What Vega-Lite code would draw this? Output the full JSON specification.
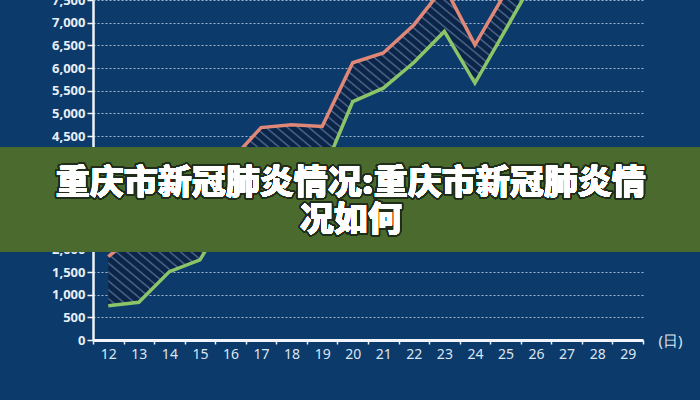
{
  "$schema": "https://vega.github.io/schema/vega-lite/v6.json",
  "width": 550,
  "height": 340,
  "autosize": {"type": "none"},
  "padding": {"left": 93, "top": 0, "right": 57, "bottom": 60},
  "background": "#0b3a6b",
  "config": {
    "view": {"stroke": null},
    "font": "Noto Sans",
    "axisY": {
      "labelFontSize": 13,
      "labelFontWeight": "bold",
      "labelColor": "#e8eef5",
      "labelPadding": 2,
      "tickSize": 6,
      "tickWidth": 1.5,
      "tickColor": "#f0f4f8",
      "domainColor": "#f0f4f8",
      "domainWidth": 2.5,
      "grid": true,
      "gridColor": "#c3d0e2",
      "gridDash": [2, 2],
      "gridWidth": 1,
      "gridOpacity": 0.85
    }
  },
  "data": {
    "values": [
      {"day": 12, "red": 1840, "green": 757},
      {"day": 13, "red": 2380, "green": 832},
      {"day": 14, "red": 2978, "green": 1508},
      {"day": 15, "red": 2846, "green": 1766},
      {"day": 16, "red": 3950, "green": 2905},
      {"day": 17, "red": 4686, "green": 3230},
      {"day": 18, "red": 4746, "green": 3450},
      {"day": 19, "red": 4709, "green": 3650},
      {"day": 20, "red": 6115, "green": 5260},
      {"day": 21, "red": 6330, "green": 5555},
      {"day": 22, "red": 6950, "green": 6120},
      {"day": 23, "red": 7800, "green": 6806},
      {"day": 24, "red": 6512, "green": 5666},
      {"day": 25, "red": 7665, "green": 6843},
      {"day": 26, "red": 8600, "green": 8030}
    ]
  },
  "encoding": {
    "x": {
      "field": "day",
      "type": "ordinal",
      "bandPosition": 0.5,
      "scale": {"type": "band", "domain": [12,13,14,15,16,17,18,19,20,21,22,23,24,25,26,27,28,29], "paddingInner": 0, "paddingOuter": 0},
      "axis": {
        "title": "(日)",
        "titleX": 577,
        "titleY": 0,
        "titleAlign": "center",
        "titleBaseline": "middle",
        "titleFontSize": 15,
        "titleFontWeight": "normal",
        "titleColor": "#dce6f0",
        "labelAngle": 0,
        "labelFontSize": 14,
        "labelColor": "#dce6f0",
        "labelPadding": 3,
        "tickBand": "extent",
        "tickSize": 4,
        "tickWidth": 1.5,
        "tickColor": "#f0f4f8",
        "domainColor": "#f0f4f8",
        "domainWidth": 3,
        "grid": false
      }
    }
  },
  "layer": [
    {
      "mark": {
        "type": "area",
        "clip": true,
        "fill": {
          "gradient": "linear", "x1": 0, "y1": 1, "x2": 1, "y2": 0,
          "stops": [
            {"offset": 0, "color": "#0a2548"}, {"offset": 0.0075, "color": "#0a2548"}, {"offset": 0.01, "color": "#52698f"},
            {"offset": 0.0125, "color": "#0a2548"}, {"offset": 0.02, "color": "#0a2548"}, {"offset": 0.0225, "color": "#52698f"},
            {"offset": 0.025, "color": "#0a2548"}, {"offset": 0.0325, "color": "#0a2548"}, {"offset": 0.035, "color": "#52698f"},
            {"offset": 0.0375, "color": "#0a2548"}, {"offset": 0.045, "color": "#0a2548"}, {"offset": 0.0475, "color": "#52698f"},
            {"offset": 0.05, "color": "#0a2548"}, {"offset": 0.0575, "color": "#0a2548"}, {"offset": 0.06, "color": "#52698f"},
            {"offset": 0.0625, "color": "#0a2548"}, {"offset": 0.07, "color": "#0a2548"}, {"offset": 0.0725, "color": "#52698f"},
            {"offset": 0.075, "color": "#0a2548"}, {"offset": 0.0825, "color": "#0a2548"}, {"offset": 0.085, "color": "#52698f"},
            {"offset": 0.0875, "color": "#0a2548"}, {"offset": 0.095, "color": "#0a2548"}, {"offset": 0.0975, "color": "#52698f"},
            {"offset": 0.1, "color": "#0a2548"}, {"offset": 0.1075, "color": "#0a2548"}, {"offset": 0.11, "color": "#52698f"},
            {"offset": 0.1125, "color": "#0a2548"}, {"offset": 0.12, "color": "#0a2548"}, {"offset": 0.1225, "color": "#52698f"},
            {"offset": 0.125, "color": "#0a2548"}, {"offset": 0.1325, "color": "#0a2548"}, {"offset": 0.135, "color": "#52698f"},
            {"offset": 0.1375, "color": "#0a2548"}, {"offset": 0.145, "color": "#0a2548"}, {"offset": 0.1475, "color": "#52698f"},
            {"offset": 0.15, "color": "#0a2548"}, {"offset": 0.1575, "color": "#0a2548"}, {"offset": 0.16, "color": "#52698f"},
            {"offset": 0.1625, "color": "#0a2548"}, {"offset": 0.17, "color": "#0a2548"}, {"offset": 0.1725, "color": "#52698f"},
            {"offset": 0.175, "color": "#0a2548"}, {"offset": 0.1825, "color": "#0a2548"}, {"offset": 0.185, "color": "#52698f"},
            {"offset": 0.1875, "color": "#0a2548"}, {"offset": 0.195, "color": "#0a2548"}, {"offset": 0.1975, "color": "#52698f"},
            {"offset": 0.2, "color": "#0a2548"}, {"offset": 0.2075, "color": "#0a2548"}, {"offset": 0.21, "color": "#52698f"},
            {"offset": 0.2125, "color": "#0a2548"}, {"offset": 0.22, "color": "#0a2548"}, {"offset": 0.2225, "color": "#52698f"},
            {"offset": 0.225, "color": "#0a2548"}, {"offset": 0.2325, "color": "#0a2548"}, {"offset": 0.235, "color": "#52698f"},
            {"offset": 0.2375, "color": "#0a2548"}, {"offset": 0.245, "color": "#0a2548"}, {"offset": 0.2475, "color": "#52698f"},
            {"offset": 0.25, "color": "#0a2548"}, {"offset": 0.2575, "color": "#0a2548"}, {"offset": 0.26, "color": "#52698f"},
            {"offset": 0.2625, "color": "#0a2548"}, {"offset": 0.27, "color": "#0a2548"}, {"offset": 0.2725, "color": "#52698f"},
            {"offset": 0.275, "color": "#0a2548"}, {"offset": 0.2825, "color": "#0a2548"}, {"offset": 0.285, "color": "#52698f"},
            {"offset": 0.2875, "color": "#0a2548"}, {"offset": 0.295, "color": "#0a2548"}, {"offset": 0.2975, "color": "#52698f"},
            {"offset": 0.3, "color": "#0a2548"}, {"offset": 0.3075, "color": "#0a2548"}, {"offset": 0.31, "color": "#52698f"},
            {"offset": 0.3125, "color": "#0a2548"}, {"offset": 0.32, "color": "#0a2548"}, {"offset": 0.3225, "color": "#52698f"},
            {"offset": 0.325, "color": "#0a2548"}, {"offset": 0.3325, "color": "#0a2548"}, {"offset": 0.335, "color": "#52698f"},
            {"offset": 0.3375, "color": "#0a2548"}, {"offset": 0.345, "color": "#0a2548"}, {"offset": 0.3475, "color": "#52698f"},
            {"offset": 0.35, "color": "#0a2548"}, {"offset": 0.3575, "color": "#0a2548"}, {"offset": 0.36, "color": "#52698f"},
            {"offset": 0.3625, "color": "#0a2548"}, {"offset": 0.37, "color": "#0a2548"}, {"offset": 0.3725, "color": "#52698f"},
            {"offset": 0.375, "color": "#0a2548"}, {"offset": 0.3825, "color": "#0a2548"}, {"offset": 0.385, "color": "#52698f"},
            {"offset": 0.3875, "color": "#0a2548"}, {"offset": 0.395, "color": "#0a2548"}, {"offset": 0.3975, "color": "#52698f"},
            {"offset": 0.4, "color": "#0a2548"}, {"offset": 0.4075, "color": "#0a2548"}, {"offset": 0.41, "color": "#52698f"},
            {"offset": 0.4125, "color": "#0a2548"}, {"offset": 0.42, "color": "#0a2548"}, {"offset": 0.4225, "color": "#52698f"},
            {"offset": 0.425, "color": "#0a2548"}, {"offset": 0.4325, "color": "#0a2548"}, {"offset": 0.435, "color": "#52698f"},
            {"offset": 0.4375, "color": "#0a2548"}, {"offset": 0.445, "color": "#0a2548"}, {"offset": 0.4475, "color": "#52698f"},
            {"offset": 0.45, "color": "#0a2548"}, {"offset": 0.4575, "color": "#0a2548"}, {"offset": 0.46, "color": "#52698f"},
            {"offset": 0.4625, "color": "#0a2548"}, {"offset": 0.47, "color": "#0a2548"}, {"offset": 0.4725, "color": "#52698f"},
            {"offset": 0.475, "color": "#0a2548"}, {"offset": 0.4825, "color": "#0a2548"}, {"offset": 0.485, "color": "#52698f"},
            {"offset": 0.4875, "color": "#0a2548"}, {"offset": 0.495, "color": "#0a2548"}, {"offset": 0.4975, "color": "#52698f"},
            {"offset": 0.5, "color": "#0a2548"}, {"offset": 0.5075, "color": "#0a2548"}, {"offset": 0.51, "color": "#52698f"},
            {"offset": 0.5125, "color": "#0a2548"}, {"offset": 0.52, "color": "#0a2548"}, {"offset": 0.5225, "color": "#52698f"},
            {"offset": 0.525, "color": "#0a2548"}, {"offset": 0.5325, "color": "#0a2548"}, {"offset": 0.535, "color": "#52698f"},
            {"offset": 0.5375, "color": "#0a2548"}, {"offset": 0.545, "color": "#0a2548"}, {"offset": 0.5475, "color": "#52698f"},
            {"offset": 0.55, "color": "#0a2548"}, {"offset": 0.5575, "color": "#0a2548"}, {"offset": 0.56, "color": "#52698f"},
            {"offset": 0.5625, "color": "#0a2548"}, {"offset": 0.57, "color": "#0a2548"}, {"offset": 0.5725, "color": "#52698f"},
            {"offset": 0.575, "color": "#0a2548"}, {"offset": 0.5825, "color": "#0a2548"}, {"offset": 0.585, "color": "#52698f"},
            {"offset": 0.5875, "color": "#0a2548"}, {"offset": 0.595, "color": "#0a2548"}, {"offset": 0.5975, "color": "#52698f"},
            {"offset": 0.6, "color": "#0a2548"}, {"offset": 0.6075, "color": "#0a2548"}, {"offset": 0.61, "color": "#52698f"},
            {"offset": 0.6125, "color": "#0a2548"}, {"offset": 0.62, "color": "#0a2548"}, {"offset": 0.6225, "color": "#52698f"},
            {"offset": 0.625, "color": "#0a2548"}, {"offset": 0.6325, "color": "#0a2548"}, {"offset": 0.635, "color": "#52698f"},
            {"offset": 0.6375, "color": "#0a2548"}, {"offset": 0.645, "color": "#0a2548"}, {"offset": 0.6475, "color": "#52698f"},
            {"offset": 0.65, "color": "#0a2548"}, {"offset": 0.6575, "color": "#0a2548"}, {"offset": 0.66, "color": "#52698f"},
            {"offset": 0.6625, "color": "#0a2548"}, {"offset": 0.67, "color": "#0a2548"}, {"offset": 0.6725, "color": "#52698f"},
            {"offset": 0.675, "color": "#0a2548"}, {"offset": 0.6825, "color": "#0a2548"}, {"offset": 0.685, "color": "#52698f"},
            {"offset": 0.6875, "color": "#0a2548"}, {"offset": 0.695, "color": "#0a2548"}, {"offset": 0.6975, "color": "#52698f"},
            {"offset": 0.7, "color": "#0a2548"}, {"offset": 0.7075, "color": "#0a2548"}, {"offset": 0.71, "color": "#52698f"},
            {"offset": 0.7125, "color": "#0a2548"}, {"offset": 0.72, "color": "#0a2548"}, {"offset": 0.7225, "color": "#52698f"},
            {"offset": 0.725, "color": "#0a2548"}, {"offset": 0.7325, "color": "#0a2548"}, {"offset": 0.735, "color": "#52698f"},
            {"offset": 0.7375, "color": "#0a2548"}, {"offset": 0.745, "color": "#0a2548"}, {"offset": 0.7475, "color": "#52698f"},
            {"offset": 0.75, "color": "#0a2548"}, {"offset": 0.7575, "color": "#0a2548"}, {"offset": 0.76, "color": "#52698f"},
            {"offset": 0.7625, "color": "#0a2548"}, {"offset": 0.77, "color": "#0a2548"}, {"offset": 0.7725, "color": "#52698f"},
            {"offset": 0.775, "color": "#0a2548"}, {"offset": 0.7825, "color": "#0a2548"}, {"offset": 0.785, "color": "#52698f"},
            {"offset": 0.7875, "color": "#0a2548"}, {"offset": 0.795, "color": "#0a2548"}, {"offset": 0.7975, "color": "#52698f"},
            {"offset": 0.8, "color": "#0a2548"}, {"offset": 0.8075, "color": "#0a2548"}, {"offset": 0.81, "color": "#52698f"},
            {"offset": 0.8125, "color": "#0a2548"}, {"offset": 0.82, "color": "#0a2548"}, {"offset": 0.8225, "color": "#52698f"},
            {"offset": 0.825, "color": "#0a2548"}, {"offset": 0.8325, "color": "#0a2548"}, {"offset": 0.835, "color": "#52698f"},
            {"offset": 0.8375, "color": "#0a2548"}, {"offset": 0.845, "color": "#0a2548"}, {"offset": 0.8475, "color": "#52698f"},
            {"offset": 0.85, "color": "#0a2548"}, {"offset": 0.8575, "color": "#0a2548"}, {"offset": 0.86, "color": "#52698f"},
            {"offset": 0.8625, "color": "#0a2548"}, {"offset": 0.87, "color": "#0a2548"}, {"offset": 0.8725, "color": "#52698f"},
            {"offset": 0.875, "color": "#0a2548"}, {"offset": 0.8825, "color": "#0a2548"}, {"offset": 0.885, "color": "#52698f"},
            {"offset": 0.8875, "color": "#0a2548"}, {"offset": 0.895, "color": "#0a2548"}, {"offset": 0.8975, "color": "#52698f"},
            {"offset": 0.9, "color": "#0a2548"}, {"offset": 0.9075, "color": "#0a2548"}, {"offset": 0.91, "color": "#52698f"},
            {"offset": 0.9125, "color": "#0a2548"}, {"offset": 0.92, "color": "#0a2548"}, {"offset": 0.9225, "color": "#52698f"},
            {"offset": 0.925, "color": "#0a2548"}, {"offset": 0.9325, "color": "#0a2548"}, {"offset": 0.935, "color": "#52698f"},
            {"offset": 0.9375, "color": "#0a2548"}, {"offset": 0.945, "color": "#0a2548"}, {"offset": 0.9475, "color": "#52698f"},
            {"offset": 0.95, "color": "#0a2548"}, {"offset": 0.9575, "color": "#0a2548"}, {"offset": 0.96, "color": "#52698f"},
            {"offset": 0.9625, "color": "#0a2548"}, {"offset": 0.97, "color": "#0a2548"}, {"offset": 0.9725, "color": "#52698f"},
            {"offset": 0.975, "color": "#0a2548"}, {"offset": 0.9825, "color": "#0a2548"}, {"offset": 0.985, "color": "#52698f"},
            {"offset": 0.9875, "color": "#0a2548"}, {"offset": 0.995, "color": "#0a2548"}, {"offset": 0.9975, "color": "#52698f"},
            {"offset": 1, "color": "#0a2548"}
          ]
        }
      },
      "encoding": {
        "y": {
          "field": "red",
          "type": "quantitative",
          "scale": {"domain": [0, 7500], "nice": false, "zero": true},
          "axis": {"title": null, "values": [0,500,1000,1500,2000,2500,3000,3500,4000,4500,5000,5500,6000,6500,7000,7500], "format": ",d"}
        },
        "y2": {"field": "green"}
      }
    },
    {
      "mark": {"type": "line", "clip": true, "stroke": "#e08878", "strokeWidth": 3.5},
      "encoding": {"y": {"field": "red", "type": "quantitative", "axis": {"title": null, "values": [0,500,1000,1500,2000,2500,3000,3500,4000,4500,5000,5500,6000,6500,7000,7500], "format": ",d"}}}
    },
    {
      "mark": {"type": "line", "clip": true, "stroke": "#8cc468", "strokeWidth": 3.5},
      "encoding": {"y": {"field": "green", "type": "quantitative", "axis": {"title": null, "values": [0,500,1000,1500,2000,2500,3000,3500,4000,4500,5000,5500,6000,6500,7000,7500], "format": ",d"}}}
    },
    {
      "mark": {"type": "rect", "clip": false, "fill": "#4a6a2e", "opacity": 0.82, "xOffset": -93, "x2Offset": 57},
      "encoding": {
        "x": {"value": 0},
        "x2": {"value": "width"},
        "y": {"datum": 4242, "type": "quantitative", "axis": {"title": null, "values": [0,500,1000,1500,2000,2500,3000,3500,4000,4500,5000,5500,6000,6500,7000,7500], "format": ",d"}},
        "y2": {"datum": 1950}
      }
    },
    {
      "mark": {"type": "text", "font": "Noto Sans CJK SC", "fontWeight": 900, "fontSize": 34, "lineBreak": "\n", "lineHeight": 37, "align": "center", "baseline": "middle", "fill": "#ffffff", "stroke": "#1f2d1a", "strokeWidth": 4, "strokeJoin": "round", "dx": -2},
      "encoding": {
        "x": {"datum": 20, "type": "ordinal"},
        "y": {"datum": 3441, "type": "quantitative", "axis": {"title": null, "values": [0,500,1000,1500,2000,2500,3000,3500,4000,4500,5000,5500,6000,6500,7000,7500], "format": ",d"}},
        "text": {"value": "重庆市新冠肺炎情况:重庆市新冠肺炎情\n况如何"}
      }
    },
    {
      "mark": {"type": "text", "font": "Noto Sans CJK SC", "fontWeight": 900, "fontSize": 34, "lineBreak": "\n", "lineHeight": 37, "align": "center", "baseline": "middle", "fill": "#ffffff", "dx": -2},
      "encoding": {
        "x": {"datum": 20, "type": "ordinal"},
        "y": {"datum": 3441, "type": "quantitative", "axis": {"title": null, "values": [0,500,1000,1500,2000,2500,3000,3500,4000,4500,5000,5500,6000,6500,7000,7500], "format": ",d"}},
        "text": {"value": "重庆市新冠肺炎情况:重庆市新冠肺炎情\n况如何"}
      }
    }
  ]
}
